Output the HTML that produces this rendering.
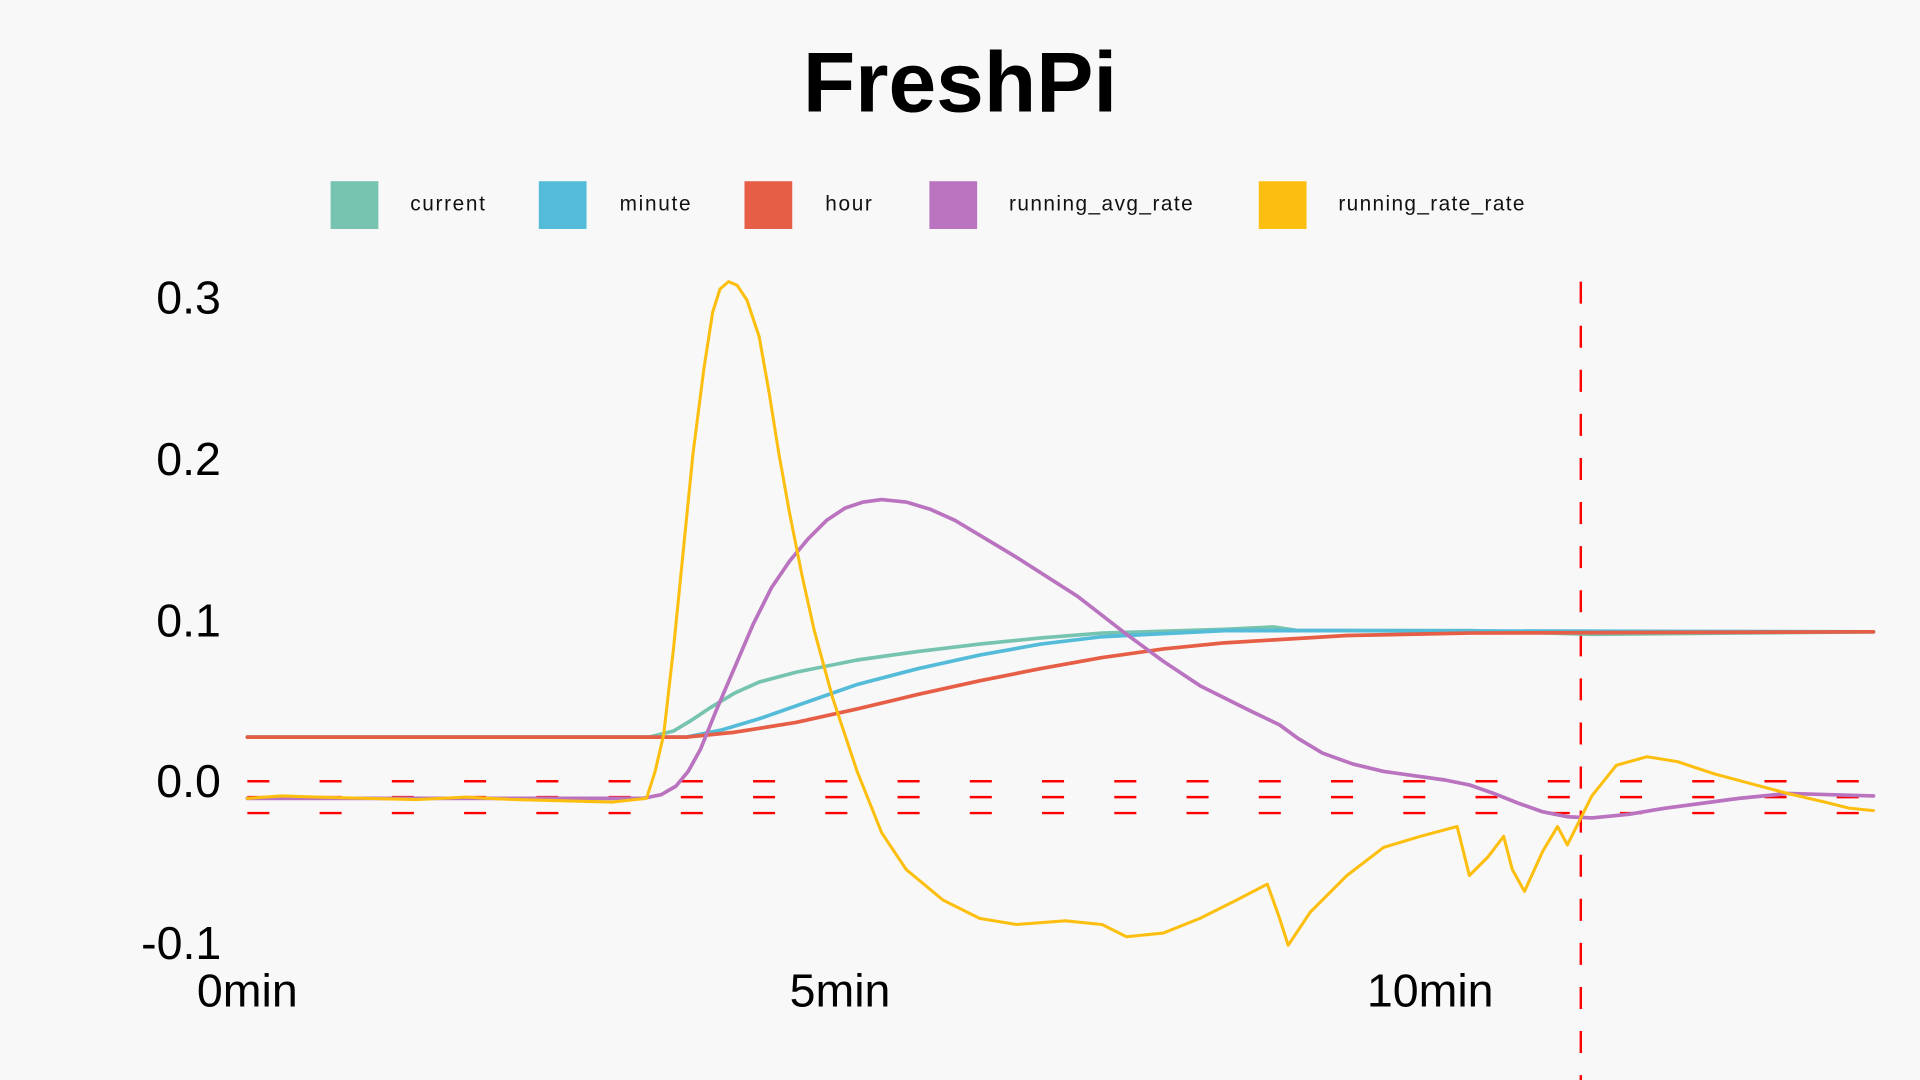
<!DOCTYPE html>
<html><head><meta charset="utf-8"><style>
html,body{margin:0;padding:0;background:#f8f8f8;}
svg{display:block;}
text{font-family:"Liberation Sans",sans-serif;}
</style></head><body>
<svg width="1920" height="1080" viewBox="0 0 1568 882" xmlns="http://www.w3.org/2000/svg">
<rect width="1568" height="882" fill="#f8f8f8"/>
<text x="784" y="91" text-anchor="middle" font-size="70" font-weight="bold" fill="#000">FreshPi</text>
<g font-size="17" fill="#111">
<rect x="270" y="148" width="39" height="39" fill="#76c3b0"/><text x="335" y="172" textLength="61">current</text>
<rect x="440" y="148" width="39" height="39" fill="#54bcd8"/><text x="506" y="172" textLength="58">minute</text>
<rect x="608" y="148" width="39" height="39" fill="#e55e45"/><text x="674" y="172" textLength="38">hour</text>
<rect x="759" y="148" width="39" height="39" fill="#b973bf"/><text x="824" y="172" textLength="150">running_avg_rate</text>
<rect x="1028" y="148" width="39" height="39" fill="#fcbf10"/><text x="1093" y="172" textLength="152">running_rate_rate</text>
</g>
<g font-size="38" fill="#000" text-anchor="middle">
<text x="154" y="256">0.3</text>
<text x="154" y="388">0.2</text>
<text x="154" y="520">0.1</text>
<text x="154" y="651">0.0</text>
<text x="148" y="783">-0.1</text>
<text x="202" y="822">0min</text>
<text x="686" y="822">5min</text>
<text x="1168" y="822">10min</text>
</g>
<g stroke="#f00" stroke-width="2" stroke-dasharray="18 41">
<line x1="202" y1="638" x2="1530" y2="638"/>
<line x1="202" y1="651" x2="1530" y2="651"/>
<line x1="202" y1="664" x2="1530" y2="664"/>
</g>
<line x1="1291" y1="230" x2="1291" y2="882" stroke="#f00" stroke-width="2" stroke-dasharray="18 18"/>
<g fill="none" stroke-width="3" stroke-linejoin="round" stroke-linecap="round">
<polyline stroke="#76c3b0" points="202,602 530,602 550,597 565,588 580,578 600,566 620,557 650,549 700,539 750,532 800,526 850,521 900,517 1000,514 1040,512 1060,515 1200,515 1300,518 1530,516"/>
<polyline stroke="#54bcd8" points="202,602 560,602 590,596 620,587 660,573 700,559 750,546 800,535 850,526 900,520 1000,515 1100,515 1530,516"/>
<polyline stroke="#e55e45" points="202,602 560,602 600,598 650,590 700,579 750,567 800,556 850,546 900,537 950,530 1000,525 1100,519 1200,517 1530,516"/>
<polyline stroke="#b973bf" points="202,652 525,652 540,649 552,642 562,630 572,612 585,580 600,545 615,510 630,480 645,458 660,440 675,425 690,415 705,410 720,408 740,410 760,416 780,425 830,455 880,487 920,518 950,540 980,560 1020,580 1045,592 1060,603 1080,615 1105,624 1130,630 1180,637 1200,641 1220,648 1240,656 1260,663 1280,667 1300,668 1330,665 1360,660 1420,652 1460,648 1530,650"/>
<polyline stroke="#fcbf10" stroke-width="2.5" points="202,652 230,650 260,651 300,652 340,653 380,651 420,653 460,654 500,655 528,652 535,630 542,600 550,530 558,450 566,370 575,300 582,255 588,236 595,230 602,233 610,245 620,275 628,320 636,370 645,420 655,470 665,515 680,570 700,630 720,680 740,710 770,735 800,750 830,755 870,752 900,755 920,765 950,762 980,750 1010,735 1035,722 1045,750 1052,772 1070,745 1100,715 1130,692 1160,683 1190,675 1200,715 1215,700 1228,683 1235,710 1245,728 1260,695 1272,675 1280,690 1300,650 1320,625 1345,618 1370,622 1400,632 1430,640 1460,648 1490,655 1510,660 1530,662"/>
</g>
</svg>
</body></html>
